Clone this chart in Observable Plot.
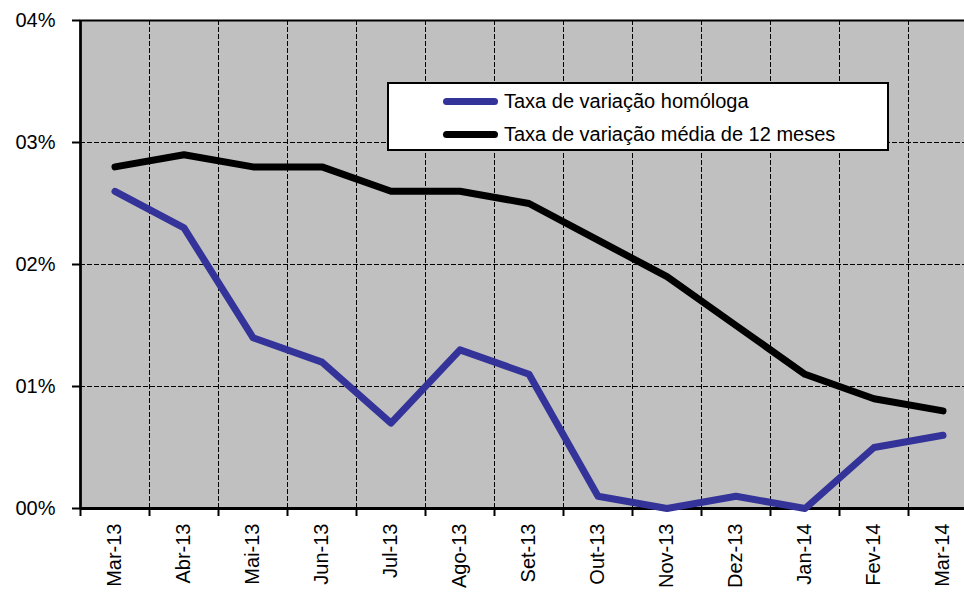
<!DOCTYPE html>
<html><head><meta charset="utf-8">
<script src="https://cdn.jsdelivr.net/npm/d3@7"></script>
<script src="https://cdn.jsdelivr.net/npm/@observablehq/plot@0.6"></script>
<style>
html,body{margin:0;padding:0;overflow:hidden;background:#fff;}
#wrap{position:relative;width:964px;height:593px;overflow:hidden;}
#legend{position:absolute;left:387px;top:82px;width:498px;height:65px;border:2px solid #000;background:#fff;font-family:"Liberation Sans",Arial,sans-serif;font-size:20px;color:#000;}
#legend .row{position:absolute;left:54px;height:22px;display:flex;align-items:center;white-space:nowrap;}
#legend .swatch{width:55px;height:7px;border-radius:4px;margin-right:6px;}
</style></head><body><div id="wrap"></div>
<script>
const months = ["Mar-13","Abr-13","Mai-13","Jun-13","Jul-13","Ago-13","Set-13","Out-13","Nov-13","Dez-13","Jan-14","Fev-14","Mar-14"];
const homologa = [2.6, 2.3, 1.4, 1.2, 0.7, 1.3, 1.1, 0.1, 0.0, 0.1, 0.0, 0.5, 0.6];
const media12 = [2.8, 2.9, 2.8, 2.8, 2.6, 2.6, 2.5, 2.2, 1.9, 1.5, 1.1, 0.9, 0.8];
const yTicks = [0, 1, 2, 3, 4];
const yTickLabels = ["00%", "01%", "02%", "03%", "04%"];
const seriesNames = ["Taxa de variação homóloga", "Taxa de variação média de 12 meses"];
const seriesColors = ["#333399", "#000000"];

const data = months.map((m, i) => ({i, m, h: homologa[i], a: media12[i]}));
const idx = d3.range(months.length);
const bounds = d3.range(months.length + 1).map(k => k - 0.5);
const dash = {stroke: "#000", strokeWidth: 1, strokeDasharray: "5,2"};

const chart = Plot.plot({
  width: 964, height: 593,
  marginLeft: 80, marginRight: -13, marginTop: 20, marginBottom: 85,
  style: {fontFamily: "'Liberation Sans', Arial, sans-serif", fontSize: "20px", background: "#fff", color: "#000"},
  x: {domain: [-0.5, months.length - 0.5], axis: null},
  y: {domain: [0, 4], axis: null},
  marks: [
    Plot.frame({fill: "#c0c0c0", stroke: "#000", strokeWidth: 2}),
    Plot.ruleX(bounds.slice(1), dash),
    Plot.ruleY(yTicks.slice(1, -1), dash),
    Plot.ruleX(bounds, {y1: 0, y2: 0, insetBottom: -8, stroke: "#000", strokeWidth: 2}),
    Plot.ruleY(yTicks, {x1: -0.5, x2: -0.5, insetLeft: -8, stroke: "#000", strokeWidth: 2}),
    Plot.ruleX([-0.5], {stroke: "#000", strokeWidth: 2.5}),
    Plot.ruleY([0], {stroke: "#000", strokeWidth: 3}),
    Plot.axisY({ticks: yTicks, tickFormat: d => yTickLabels[yTicks.indexOf(d)], tickSize: 0, tickPadding: 25, fontSize: 20, label: null}),
    Plot.axisX({ticks: idx, tickFormat: i => months[i], tickSize: 0, tickRotate: -90, tickPadding: 15, fontSize: 20, label: null}),
    Plot.line(data, {x: "i", y: "a", stroke: seriesColors[1], strokeWidth: 7, strokeLinecap: "round", strokeLinejoin: "round"}),
    Plot.line(data, {x: "i", y: "h", stroke: seriesColors[0], strokeWidth: 7, strokeLinecap: "round", strokeLinejoin: "round"})
  ]
});
const wrap = document.getElementById("wrap");
wrap.appendChild(chart);

const legend = document.createElement("div");
legend.id = "legend";
seriesNames.forEach((name, k) => {
  const row = document.createElement("div");
  row.className = "row";
  row.style.top = (6 + k * 33) + "px";
  const sw = document.createElement("span");
  sw.className = "swatch";
  sw.style.background = seriesColors[k];
  const t = document.createElement("span");
  t.textContent = name;
  row.appendChild(sw); row.appendChild(t);
  legend.appendChild(row);
});
wrap.appendChild(legend);
</script>
</body></html>
